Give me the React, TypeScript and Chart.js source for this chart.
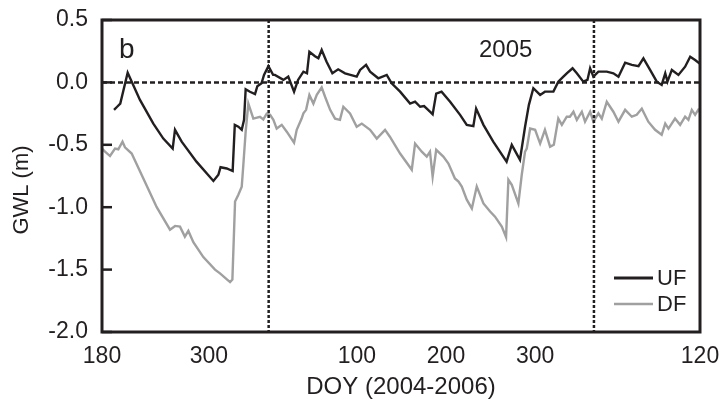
import React, { useEffect, useRef } from "react";
import { Chart, registerables } from "chart.js";
Chart.register(...registerables);

// x values are day indices counted from DOY 180 of 2004 (0) to DOY 120 of 2006 (671)
const ufDays = [13.5, 17, 20.5, 28.8, 42.6, 57.6, 68.8, 79.3, 81.9, 89.4, 106, 125, 130.6, 133, 140, 146.6, 149, 153, 156.8, 159.4, 161.2, 166, 171.7, 174.3, 179, 181.8, 186.7, 192, 194, 203.5, 209, 215.5, 220, 226, 230, 232.7, 239, 242.8, 246.5, 252, 258.5, 265, 272.7, 285.8, 289.6, 296.3, 300.8, 310, 319.5, 325, 334.5, 345.7, 351.3, 357, 361.4, 368, 371, 375, 381, 390.6, 401.8, 409.3, 416.7, 419.8, 428, 439, 454, 459.8, 469, 474.7, 479, 484, 491.6, 497, 506.5, 512, 517.7, 521.5, 528, 532.8, 540, 544.7, 547.7, 551.4, 557, 566.4, 573.8, 579.5, 587, 594.5, 602, 607.5, 615, 622.5, 628, 632, 634.5, 639.4, 646.8, 654.3, 660, 665.5, 671];
const ufValues = [-0.22, -0.195, -0.17, 0.078, -0.14, -0.33, -0.45, -0.53, -0.38, -0.475, -0.635, -0.79, -0.74, -0.68, -0.69, -0.71, -0.34, -0.355, -0.38, -0.3, -0.055, -0.075, -0.093, -0.03, -0.007, 0.06, 0.13, 0.06, 0.06, 0.02, 0.046, -0.074, 0.02, 0.086, 0.073, 0.246, 0.21, 0.193, 0.26, 0.166, 0.073, 0.105, 0.073, 0.046, 0.1, 0.14, 0.086, 0.033, 0.06, -0.007, -0.074, -0.17, -0.155, -0.195, -0.19, -0.235, -0.256, -0.09, -0.074, -0.155, -0.26, -0.34, -0.35, -0.21, -0.34, -0.475, -0.635, -0.5, -0.62, -0.355, -0.18, -0.047, -0.1, -0.074, -0.074, 0.006, 0.046, 0.073, 0.113, 0.073, 0.006, 0.02, 0.113, 0.046, 0.086, 0.086, 0.073, 0.046, 0.158, 0.14, 0.13, 0.193, 0.1, 0.006, -0.02, 0.073, 0.006, 0.1, 0.06, 0.126, 0.206, 0.18, 0.15];

const dfDays = [0, 3.4, 9, 14.6, 18.3, 23, 25.8, 33.3, 46.4, 61.4, 76.3, 82, 87.5, 93, 96.9, 102.5, 113.7, 126.8, 132.4, 143.7, 146.3, 149.3, 153, 156.8, 158.6, 161.2, 164.2, 169.8, 177.3, 181, 184.8, 188.6, 192.3, 196, 201.7, 207.3, 215.5, 218.5, 224, 226, 229, 232.7, 237.2, 241, 246.5, 250.3, 256, 261.5, 267, 270.8, 278.3, 285.8, 291.5, 300.8, 308.3, 317.6, 323, 334.5, 347.6, 351.3, 358.8, 364.4, 368, 371, 375, 383, 388.7, 396, 400, 403.7, 409.3, 415, 420.5, 428, 435.5, 441, 448.6, 453.4, 456, 459.8, 467.2, 471, 474.7, 476.6, 480.4, 486, 491.6, 497, 502.8, 507, 512, 516, 521.5, 525, 529, 532.8, 538.4, 542, 547.7, 551.4, 557, 560.8, 566.4, 573.8, 579.5, 587, 594.5, 600, 605.7, 613, 620.6, 628, 632, 635.6, 643, 648.7, 654.3, 658, 661.8, 665.5, 669, 671];
const dfValues = [-0.53, -0.555, -0.59, -0.53, -0.536, -0.475, -0.52, -0.57, -0.77, -1.0, -1.18, -1.15, -1.156, -1.236, -1.19, -1.28, -1.4, -1.5, -1.53, -1.6, -1.58, -0.955, -0.9, -0.835, -0.66, -0.395, -0.17, -0.29, -0.275, -0.296, -0.25, -0.26, -0.3, -0.37, -0.34, -0.395, -0.483, -0.38, -0.29, -0.248, -0.22, -0.1, -0.17, -0.1, -0.04, -0.115, -0.22, -0.29, -0.3, -0.195, -0.248, -0.355, -0.33, -0.38, -0.45, -0.38, -0.435, -0.57, -0.7, -0.49, -0.555, -0.595, -0.555, -0.755, -0.54, -0.595, -0.65, -0.77, -0.795, -0.835, -0.94, -1.01, -0.835, -0.97, -1.035, -1.076, -1.156, -1.24, -0.78, -0.82, -0.97, -0.74, -0.555, -0.53, -0.37, -0.38, -0.49, -0.38, -0.515, -0.5, -0.29, -0.34, -0.275, -0.275, -0.235, -0.3, -0.235, -0.315, -0.235, -0.315, -0.248, -0.29, -0.155, -0.235, -0.315, -0.22, -0.275, -0.26, -0.21, -0.315, -0.38, -0.42, -0.33, -0.37, -0.29, -0.34, -0.275, -0.3, -0.22, -0.26, -0.22, -0.24];

const xTickDays = [0, 120, 286, 386, 486, 671];
const xTickLabels = ["180", "300", "100", "200", "300", "120"];
const yearStartDays = [187, 552];
const yTickValues = [-2, -1.5, -1, -0.5, 0, 0.5];
const seriesNames = ["UF", "DF"];

const FONT = "'Liberation Sans', Arial, sans-serif";
const INK = "#231f20";
const GRAY = "#a0a0a0";

export default function App() {
  const ref = useRef<HTMLCanvasElement>(null);
  useEffect(() => {
    const canvas = ref.current;
    if (!canvas) return;
    const overlay = {
      id: "overlay",
      afterDatasetsDraw(chart: any) {
        const { ctx, chartArea: a, scales } = chart;
        const xs = scales.x, ys = scales.y;
        ctx.save();
        // zero line
        ctx.strokeStyle = INK;
        ctx.lineWidth = 2.5;
        ctx.setLineDash([5, 3]);
        const y0 = ys.getPixelForValue(0);
        ctx.beginPath();
        ctx.moveTo(a.left, y0);
        ctx.lineTo(a.right, y0);
        ctx.stroke();
        // year boundaries
        ctx.setLineDash([3, 2]);
        yearStartDays.forEach((d) => {
          const x = xs.getPixelForValue(d);
          ctx.beginPath();
          ctx.moveTo(x, a.top);
          ctx.lineTo(x, a.bottom);
          ctx.stroke();
        });
        ctx.setLineDash([]);
        // inward y ticks
        ctx.lineWidth = 2.5;
        yTickValues.forEach((v) => {
          const y = ys.getPixelForValue(v);
          ctx.beginPath();
          ctx.moveTo(a.left, y);
          ctx.lineTo(a.left + 10, y);
          ctx.stroke();
        });
        // frame
        ctx.lineWidth = 3;
        ctx.strokeRect(a.left, a.top, a.right - a.left, a.bottom - a.top);
        // annotations
        ctx.fillStyle = INK;
        ctx.textBaseline = "alphabetic";
        ctx.textAlign = "left";
        ctx.font = `28px ${FONT}`;
        ctx.fillText("b", a.left + 17, 58);
        ctx.font = `24px ${FONT}`;
        ctx.fillText("2005", a.left + 377, 57);
        // y axis title
        ctx.save();
        ctx.translate(22, 190);
        ctx.rotate(-Math.PI / 2);
        ctx.textAlign = "center";
        ctx.textBaseline = "middle";
        ctx.font = `22px ${FONT}`;
        ctx.fillText("GWL (m)", 0, 0);
        ctx.restore();
        // legend
        const colors = [INK, GRAY];
        const widths = [3, 2.4];
        ctx.font = `22px ${FONT}`;
        ctx.textBaseline = "middle";
        seriesNames.forEach((name, i) => {
          const y = a.bottom - 54 + i * 26;
          ctx.strokeStyle = colors[i];
          ctx.lineWidth = widths[i];
          ctx.beginPath();
          ctx.moveTo(a.right - 86, y);
          ctx.lineTo(a.right - 47, y);
          ctx.stroke();
          ctx.fillText(name, a.right - 43, y + 1);
        });
        ctx.restore();
      },
    };
    const chart = new Chart(canvas, {
      type: "line",
      data: {
        datasets: [
          {
            label: seriesNames[0],
            data: ufDays.map((d, i) => ({ x: d, y: ufValues[i] })),
            borderColor: INK,
            borderWidth: 2.4,
            pointRadius: 0,
            tension: 0,
          },
          {
            label: seriesNames[1],
            data: dfDays.map((d, i) => ({ x: d, y: dfValues[i] })),
            borderColor: GRAY,
            borderWidth: 2.4,
            pointRadius: 0,
            tension: 0,
          },
        ],
      },
      options: {
        responsive: false,
        animation: false,
        layout: { padding: { top: 20, right: 23, left: 0, bottom: 0 } },
        plugins: { legend: { display: false }, tooltip: { enabled: false } },
        scales: {
          x: {
            type: "linear",
            min: 0,
            max: 671,
            afterBuildTicks: (s: any) => {
              s.ticks = xTickDays.map((v) => ({ value: v }));
            },
            afterFit: (s: any) => {
              s.height = 72;
              s.paddingLeft = 0;
              s.paddingRight = 0;
            },
            ticks: {
              callback: (v: any) => {
                const i = xTickDays.indexOf(Number(v));
                return i >= 0 ? xTickLabels[i] : "";
              },
              font: { family: FONT, size: 23 },
              color: INK,
              padding: 11,
              maxRotation: 0,
              autoSkip: false,
            },
            grid: { display: false, drawTicks: false },
            border: { display: false },
            title: {
              display: true,
              text: "DOY (2004-2006)",
              font: { family: FONT, size: 24 },
              color: INK,
              padding: { top: 0, bottom: 2 },
            },
          },
          y: {
            type: "linear",
            min: -2,
            max: 0.5,
            afterBuildTicks: (s: any) => {
              s.ticks = yTickValues.map((v) => ({ value: v }));
            },
            afterFit: (s: any) => {
              s.width = 102;
              s.paddingTop = 0;
              s.paddingBottom = 0;
            },
            ticks: {
              callback: (v: any) => Number(v).toFixed(1),
              font: { family: FONT, size: 23 },
              color: INK,
              padding: 14,
            },
            grid: { display: false, drawTicks: false },
            border: { display: false },
          },
        },
      },
      plugins: [overlay],
    } as any);
    return () => chart.destroy();
  }, []);
  return (
    <div style={{ position: "absolute", left: 0, top: 0, width: 723, height: 404, background: "#fff" }}>
      <canvas ref={ref} width={723} height={404} style={{ display: "block" }} />
    </div>
  );
}
